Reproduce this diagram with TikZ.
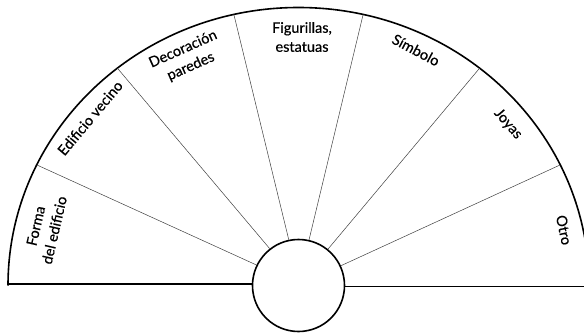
\documentclass[tikz,border=0pt]{standalone}
\usepackage{fontspec}
\setmainfont{Lato}
\newfontfamily\lblfont{Lato}[FakeBold=0.5]
\usetikzlibrary{calc}
\tikzset{
  heavy/.style={line width=1.6pt, black},
  spoke/.style={line width=0.5pt, black!75},
  lbl/.style={font=\lblfont\fontsize{14.5}{19}\selectfont, align=center, inner sep=0pt},
}
\begin{document}
\begin{tikzpicture}[x=1pt,y=1pt]
\useasboundingbox (0,0) rectangle (584,333);
\clip (0,0) rectangle (584,333);
\coordinate (C) at (298.5,47.5);
% outer arc
\coordinate (arcL) at (8,47.5);
\draw[heavy] (arcL) arc[start angle=180, end angle=0, x radius=290.5, y radius=278];
% outer spoke ends
\foreach \k in {1,...,6}{
  \coordinate (o\k) at ($(C)+({180-\k*180/7}:290.5 and 278)$);
}
% hub
\node[draw, circle, line width=1.6pt, fill=white, minimum size=92pt, inner sep=0pt] (hub) at (C) {};
% baseline
\coordinate (bl) at (8,49);
\coordinate (br) at (600,46.5);
\draw[heavy] (bl) -- (bl -| hub.west);
\draw[heavy] (br -| hub.east) -- (br);
% spokes
\foreach \k in {1,...,6}{
  \draw[spoke] (hub.{180-\k*180/7}) -- (o\k);
}
% labels
\node[lbl, rotate=77] (t1) at (45,105) {Forma\\del edificio};
\node[lbl, rotate=50] (t2) at (90,215) {Edificio vecino};
\node[lbl, rotate=24] (t3) at (187,275) {Decoración\\paredes};
\node[lbl] (t4) at (302,296) {Figurillas,\\estatuas};
\node[lbl, rotate=-28] (t5) at (416,283) {Símbolo};
\node[lbl, rotate=-49] (t6) at (508,209) {Joyas};
\node[lbl, rotate=-78] (t7) at (564,103) {Otro};
\end{tikzpicture}
\end{document}
